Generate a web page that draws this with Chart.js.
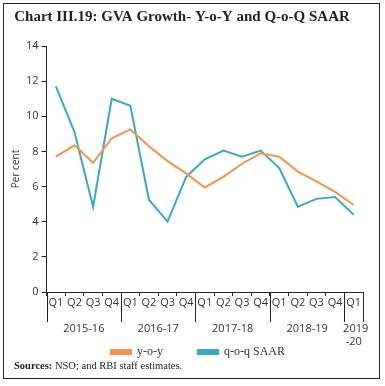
<!DOCTYPE html>
<html>
<head>
<meta charset="utf-8">
<script src="https://cdn.jsdelivr.net/npm/chart.js@4"></script>
<style>
  body { margin: 0; background: #fff; }
  #wrap { position: absolute; left: 0; top: 0; width: 385px; height: 386px; }
  #frame { position: absolute; left: 3px; top: 3px; width: 377px; height: 376px; border: 1.5px solid #222; box-sizing: border-box; pointer-events: none; }
  #src { position: absolute; left: 14px; top: 360px; font-family: "Liberation Serif", serif; font-size: 10.5px; color: #222; }
</style>
</head>
<body>
<div id="wrap">
  <canvas id="cht" width="385" height="386"></canvas>
  <div id="frame"></div>
  <div id="src"><b>Sources:</b> NSO; and RBI staff estimates.</div>
</div>
<script>
// quarters and fiscal years
const quarters = ['Q1','Q2','Q3','Q4','Q1','Q2','Q3','Q4','Q1','Q2','Q3','Q4','Q1','Q2','Q3','Q4','Q1'];
const years = [['2015-16'], ['2016-17'], ['2017-18'], ['2018-19'], ['2019', '-20']];
const yearSpan = [4, 4, 4, 4, 1];

// GVA growth, per cent
const yoy = [7.7, 8.35, 7.35, 8.75, 9.25, 8.3, 7.45, 6.75, 5.95, 6.55, 7.3, 7.9, 7.7, 6.85, 6.3, 5.7, 4.95];
const qoqSaar = [11.7, 9.1, 4.85, 11.0, 10.6, 5.25, 4.0, 6.55, 7.55, 8.05, 7.7, 8.05, 7.05, 4.85, 5.3, 5.4, 4.4];

const yTicks = [0, 2, 4, 6, 8, 10, 12, 14];

const tickFont = { family: "'Open Sans', 'DejaVu Sans', sans-serif", size: 11 };

const yearRows = {
    id: 'yearRows',
    afterLayout(chart) {
        // nudge legend a bit right, like the original
        chart.legend.left += 16;
        chart.legend.right += 16;
    },
    afterDraw(chart) {
        const ctx = chart.ctx;
        const xs = chart.scales.x;
        const n = quarters.length;
        const w = (xs.right - xs.left) / n;
        const yTop = xs.top;
        ctx.save();
        ctx.strokeStyle = '#222';
        ctx.lineWidth = 1;
        let idx = 0;
        const edges = [0];
        yearSpan.forEach(s => { idx += s; edges.push(idx); });
        edges.forEach(e => {
            const x = Math.round(xs.left + e * w) + 0.5;
            ctx.beginPath();
            ctx.moveTo(x, yTop);
            ctx.lineTo(x, yTop + 30);
            ctx.stroke();
        });
        ctx.fillStyle = '#333';
        ctx.font = tickFont.size + 'px ' + tickFont.family;
        ctx.textAlign = 'center';
        ctx.textBaseline = 'middle';
        for (let i = 0; i < years.length; i++) {
            const cx = xs.left + (edges[i] + edges[i + 1]) / 2 * w;
            years[i].forEach((t, k) => {
                ctx.fillText(t, cx + (k == 0 && years[i].length > 1 ? 2 : 0), yTop + 37 + k * 13);
            });
        }
        ctx.restore();
    }
};

const chart = new Chart(document.getElementById('cht'), {
    type: 'line',
    data: {
        labels: quarters,
        datasets: [{
            label: 'y-o-y',
            data: yoy,
            borderColor: '#f7934c',
            backgroundColor: '#f7934c',
            borderWidth: 2,
            pointRadius: 0,
            tension: 0
        }, {
            label: 'q-o-q SAAR',
            data: qoqSaar,
            borderColor: '#38abc0',
            backgroundColor: '#38abc0',
            borderWidth: 2,
            pointRadius: 0,
            tension: 0
        }]
    },
    options: {
        responsive: false,
        animation: false,
        layout: { padding: { left: 1, right: 22, top: 0, bottom: 18 } },
        plugins: {
            title: {
                display: true,
                text: 'Chart III.19: GVA Growth- Y-o-Y and Q-o-Q SAAR',
                color: '#222',
                font: { family: "'Liberation Serif', serif", size: 15, weight: 'bold' },
                padding: { top: 8, bottom: 20 }
            },
            legend: {
                position: 'bottom',
                labels: {
                    boxWidth: 20,
                    boxHeight: 4,
                    padding: 35,
                    color: '#333',
                    font: { family: "'Liberation Serif', serif", size: 12 }
                }
            },
            tooltip: { enabled: false }
        },
        scales: {
            x: {
                offset: true,
                grid: { offset: true, drawOnChartArea: false, tickLength: 4, color: '#222' },
                border: { color: '#222', width: 1 },
                ticks: { color: '#333', font: tickFont, maxRotation: 0, autoSkip: false, padding: 0 },
                afterFit(scale) { scale.height = 19; }
            },
            y: {
                min: 0,
                max: 14,
                afterBuildTicks(scale) { scale.ticks = yTicks.map(v => ({ value: v })); },
                grid: { drawOnChartArea: false, tickLength: 5, color: '#222' },
                border: { color: '#222', width: 1 },
                ticks: { color: '#333', font: tickFont, padding: 3 },
                title: { display: true, text: 'Per cent', color: '#333', font: { family: "'Open Sans', sans-serif", size: 10 }, padding: { top: 9, bottom: 1 } }
            }
        }
    },
    plugins: [yearRows]
});
</script>
</body>
</html>
